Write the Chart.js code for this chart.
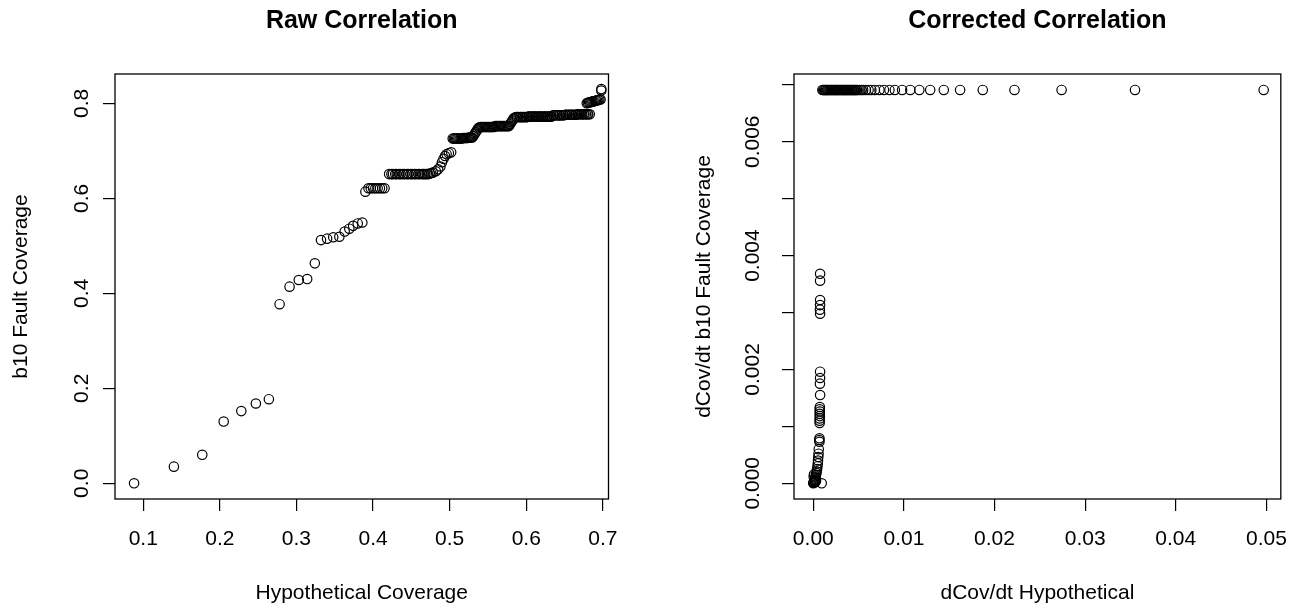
<!DOCTYPE html>
<html>
<head>
<meta charset="utf-8">
<title>Raw and Corrected Correlation</title>
<script src="https://cdn.jsdelivr.net/npm/chart.js@4.4.1/dist/chart.umd.min.js"></script>
<style>
    html, body { margin: 0; padding: 0; background: #fff; overflow: hidden; }
    #wrap { position: relative; width: 1303px; height: 610px; overflow: hidden; }
    #wrap canvas { position: absolute; top: 0; }
    #raw-chart { left: 0; }
    #corr-chart { left: 651px; }
</style>
</head>
<body>
<div id="wrap">
    <canvas id="raw-chart" width="651" height="610"></canvas>
    <canvas id="corr-chart" width="652" height="610"></canvas>
</div>
<script>
// ---- Raw correlation (left panel) ----
const RAW_X = [
    0.088, 0.140, 0.177, 0.205, 0.228, 0.247, 0.264,
    0.278, 0.291, 0.303, 0.314, 0.324,
    0.332, 0.340, 0.348, 0.356, 0.363, 0.369, 0.374, 0.380, 0.386,
    0.390, 0.394, 0.397, 0.400, 0.403, 0.406, 0.409, 0.412, 0.415,
    0.421, 0.424, 0.426, 0.429, 0.431, 0.434, 0.436, 0.439, 0.441, 0.444,
    0.446, 0.449, 0.451, 0.454, 0.456, 0.459, 0.461, 0.464, 0.466, 0.468,
    0.470, 0.472, 0.474, 0.476, 0.478,
    0.482, 0.485, 0.488, 0.490, 0.492, 0.494, 0.496, 0.499, 0.502,
    0.504, 0.5055, 0.507, 0.5085, 0.510, 0.5115, 0.513, 0.5145, 0.516,
    0.5175, 0.519, 0.5205, 0.522, 0.5235, 0.525, 0.5265, 0.528, 0.5295,
    0.531, 0.5325, 0.534, 0.5355, 0.537, 0.5385,
    0.540, 0.5415, 0.543, 0.5445, 0.546, 0.5475, 0.549, 0.5505, 0.552, 0.5535,
    0.555, 0.5565, 0.558, 0.5595, 0.561, 0.5625, 0.564, 0.5655, 0.567, 0.5685,
    0.570, 0.5715, 0.573, 0.5745, 0.576, 0.5775,
    0.579, 0.5805, 0.582, 0.5835, 0.585,
    0.587, 0.588, 0.590, 0.592, 0.593, 0.595, 0.596, 0.598, 0.600, 0.601,
    0.603, 0.604, 0.606, 0.608, 0.609, 0.611, 0.612, 0.614, 0.616, 0.617,
    0.619, 0.620, 0.622, 0.624, 0.625, 0.627, 0.628, 0.630, 0.632, 0.633,
    0.635, 0.636, 0.638, 0.640, 0.641, 0.643, 0.644, 0.646, 0.648, 0.649,
    0.651, 0.652, 0.654, 0.656, 0.657, 0.659, 0.660, 0.662, 0.664, 0.665,
    0.667, 0.668, 0.670, 0.672, 0.673, 0.675, 0.676, 0.678, 0.680, 0.681, 0.683,
    0.679, 0.6805, 0.682, 0.6835, 0.685, 0.6865, 0.688, 0.6895, 0.691, 0.6925,
    0.694, 0.6955, 0.697,
    0.698, 0.698
];
const RAW_Y = [
    0.000, 0.035, 0.060, 0.130, 0.152, 0.168, 0.177,
    0.377, 0.414, 0.428, 0.430, 0.463,
    0.512, 0.515, 0.518, 0.519, 0.530, 0.536, 0.542, 0.547, 0.549,
    0.614, 0.621, 0.621, 0.621, 0.621, 0.621, 0.621, 0.621, 0.621,
    0.651, 0.651, 0.651, 0.651, 0.651, 0.651, 0.651, 0.651, 0.651, 0.651,
    0.651, 0.651, 0.651, 0.651, 0.651, 0.651, 0.651, 0.651, 0.651, 0.651,
    0.651, 0.651, 0.652, 0.653, 0.654,
    0.657, 0.661, 0.667, 0.676, 0.683, 0.689, 0.693, 0.695, 0.697,
    0.726, 0.726, 0.726, 0.726, 0.726, 0.726, 0.726, 0.726, 0.726,
    0.727, 0.727, 0.727, 0.727, 0.727, 0.728, 0.728, 0.728, 0.728,
    0.731, 0.735, 0.739, 0.743, 0.747, 0.749,
    0.750, 0.750, 0.750, 0.750, 0.750, 0.750, 0.750, 0.750, 0.750, 0.750,
    0.750, 0.750, 0.750, 0.752, 0.752, 0.752, 0.752, 0.752, 0.752, 0.752,
    0.752, 0.752, 0.752, 0.752, 0.752, 0.752,
    0.756, 0.760, 0.764, 0.768, 0.770,
    0.771, 0.771, 0.771, 0.771, 0.771, 0.771, 0.771, 0.771, 0.771, 0.771,
    0.772, 0.772, 0.772, 0.772, 0.772, 0.772, 0.772, 0.772, 0.772, 0.772,
    0.772, 0.772, 0.772, 0.772, 0.772, 0.772, 0.772, 0.772, 0.772, 0.772,
    0.775, 0.775, 0.775, 0.775, 0.775, 0.775, 0.775, 0.775, 0.775, 0.775,
    0.776, 0.776, 0.776, 0.776, 0.776, 0.776, 0.776, 0.776, 0.776, 0.776,
    0.777, 0.777, 0.777, 0.777, 0.777, 0.777, 0.777, 0.777, 0.777, 0.777, 0.777,
    0.800, 0.801, 0.802, 0.802, 0.803, 0.804, 0.804, 0.805, 0.806, 0.806,
    0.807, 0.808, 0.808,
    0.827, 0.830
];
const RAW_X_TICKS = [0.1, 0.2, 0.3, 0.4, 0.5, 0.6, 0.7];
const RAW_X_LABELS = ['0.1', '0.2', '0.3', '0.4', '0.5', '0.6', '0.7'];
const RAW_Y_TICKS = [0.0, 0.2, 0.4, 0.6, 0.8];
const RAW_Y_LABELS = ['0.0', '0.2', '0.4', '0.6', '0.8'];

// ---- Corrected correlation (right panel) ----
const CORR_X = [
    0.0497, 0.0355, 0.0274, 0.0222, 0.0187, 0.0162, 0.0144, 0.0129, 0.0117, 0.0107,
    0.0098, 0.0090, 0.0084, 0.0078, 0.0073, 0.0068, 0.0064, 0.0061, 0.0058, 0.0055,
    0.0053, 0.0051, 0.0049, 0.0048, 0.0047, 0.0046, 0.0045, 0.0044,
    0.0043, 0.0042, 0.0041, 0.0040, 0.0039, 0.0038, 0.0037, 0.0036, 0.0035, 0.0034,
    0.0033, 0.0032, 0.0031, 0.0030, 0.0029, 0.0028, 0.0027, 0.0026, 0.0025, 0.0024,
    0.0023, 0.0022, 0.0021, 0.0020, 0.0019, 0.0018, 0.0017, 0.0016, 0.0015, 0.0014,
    0.0013, 0.0012, 0.0011, 0.0010,
    0.00075, 0.00075, 0.00075, 0.00075, 0.00073, 0.00075,
    0.00075, 0.00075, 0.00073, 0.00075,
    0.00072, 0.00070, 0.00072, 0.00070, 0.00072, 0.00070, 0.00070, 0.00070,
    0.00068, 0.00066, 0.00068,
    0.00060, 0.00058, 0.00055, 0.00052, 0.00050, 0.00046, 0.00042, 0.00038,
    0.00034, 0.00030, 0.00026, 0.00022, 0.00018, 0.00014, 0.00010, 0.00006,
    0.00002, 0.00000, 0.00004, 0.00008, 0.00012, 0.00020, 0.00030, 0.00093
];
const CORR_Y = [
    0.00691, 0.00691, 0.00691, 0.00691, 0.00691, 0.00691, 0.00691, 0.00691, 0.00691, 0.00691,
    0.00691, 0.00691, 0.00691, 0.00691, 0.00691, 0.00691, 0.00691, 0.00691, 0.00691, 0.00691,
    0.00691, 0.00691, 0.00691, 0.00691, 0.00691, 0.00691, 0.00691, 0.00691,
    0.00691, 0.00691, 0.00691, 0.00691, 0.00691, 0.00691, 0.00691, 0.00691, 0.00691, 0.00691,
    0.00691, 0.00691, 0.00691, 0.00691, 0.00691, 0.00691, 0.00691, 0.00691, 0.00691, 0.00691,
    0.00691, 0.00691, 0.00691, 0.00691, 0.00691, 0.00691, 0.00691, 0.00691, 0.00691, 0.00691,
    0.00691, 0.00691, 0.00691, 0.00691,
    0.00368, 0.00356, 0.00322, 0.00313, 0.00305, 0.00298,
    0.00196, 0.00185, 0.00175, 0.00155,
    0.00134, 0.00130, 0.00126, 0.00122, 0.00118, 0.00114, 0.00110, 0.00106,
    0.00079, 0.00076, 0.00073,
    0.00060, 0.00052, 0.00046, 0.00040, 0.00035, 0.00030, 0.00025, 0.00021,
    0.00018, 0.00015, 0.00012, 0.00010, 0.00008, 0.00006, 0.00004, 0.00002,
    0.00001, 0.00000, 0.00012, 0.00016, 0.00003, 0.00002, 0.00004, 0.00000
];
const CORR_X_TICKS = [0.00, 0.01, 0.02, 0.03, 0.04, 0.05];
const CORR_X_LABELS = ['0.00', '0.01', '0.02', '0.03', '0.04', '0.05'];
const CORR_Y_TICKS = [0.000, 0.001, 0.002, 0.003, 0.004, 0.005, 0.006, 0.007];
const CORR_Y_LABELS = ['0.000', '', '0.002', '', '0.004', '', '0.006', ''];

Chart.defaults.font.family = '"Liberation Sans", Arial, Helvetica, sans-serif';
Chart.defaults.color = '#000';

// R-style frame around the plotting region
const boxPlugin = {
    id: 'box',
    beforeDatasetsDraw(chart) {
        const { ctx, chartArea: a } = chart;
        ctx.save();
        ctx.strokeStyle = '#000';
        ctx.lineWidth = 1.3;
        ctx.strokeRect(a.left, a.top, a.right - a.left, a.bottom - a.top);
        ctx.restore();
    },
};

function toPoints(xs, ys) {
    return xs.map((x, i) => ({ x, y: ys[i] }));
}

function makeChart(canvasId, cfg) {
    const tickGrid = {
        display: true,
        drawOnChartArea: false,
        drawTicks: true,
        tickLength: 12,
        color: '#000',
        lineWidth: 1.2,
    };
    return new Chart(document.getElementById(canvasId), {
        type: 'scatter',
        data: {
            datasets: [{
                data: toPoints(cfg.xs, cfg.ys),
                pointStyle: 'circle',
                pointRadius: 4.7,
                pointHoverRadius: 4.7,
                borderWidth: 1.2,
                borderColor: '#000',
                backgroundColor: 'rgba(0,0,0,0)',
            }],
        },
        options: {
            responsive: false,
            animation: false,
            devicePixelRatio: 1,
            events: [],
            layout: { padding: { left: 0, right: cfg.padRight, top: 0, bottom: 0 } },
            plugins: {
                legend: { display: false },
                tooltip: { enabled: false },
                title: {
                    display: true,
                    fullSize: false,
                    text: cfg.title,
                    color: '#000',
                    font: { size: 25, weight: 'bold' },
                    padding: { top: 6, bottom: 38 },
                },
            },
            scales: {
                x: {
                    type: 'linear',
                    position: 'bottom',
                    min: cfg.xMin,
                    max: cfg.xMax,
                    afterFit: s => { s.height = 111; },
                    afterBuildTicks: s => { s.ticks = cfg.xTicks.map(v => ({ value: v })); },
                    grid: tickGrid,
                    border: { display: false },
                    ticks: {
                        autoSkip: false,
                        maxRotation: 0,
                        padding: 15.5,
                        font: { size: 21 },
                        callback: (v, i) => cfg.xLabels[i],
                    },
                    title: {
                        display: true,
                        text: cfg.xTitle,
                        font: { size: 21 },
                        padding: { top: 0, bottom: 4.5 },
                    },
                },
                y: {
                    type: 'linear',
                    position: 'left',
                    min: cfg.yMin,
                    max: cfg.yMax,
                    afterFit: s => { s.width = cfg.yWidth; },
                    afterBuildTicks: s => { s.ticks = cfg.yTicks.map(v => ({ value: v })); },
                    grid: tickGrid,
                    border: { display: false },
                    ticks: {
                        autoSkip: false,
                        minRotation: 90,
                        maxRotation: 90,
                        crossAlign: 'center',
                        padding: cfg.yTickPad,
                        font: { size: 21 },
                        callback: (v, i) => cfg.yLabels[i],
                    },
                    title: {
                        display: true,
                        text: cfg.yTitle,
                        font: { size: 21 },
                        padding: { top: cfg.yTitlePad, bottom: 0 },
                    },
                },
            },
        },
        plugins: [boxPlugin],
    });
}

makeChart('raw-chart', {
    title: 'Raw Correlation',
    xTitle: 'Hypothetical Coverage',
    yTitle: 'b10 Fault Coverage',
    xs: RAW_X, ys: RAW_Y,
    xMin: 0.0631, xMax: 0.7074,
    yMin: -0.0331, yMax: 0.8617,
    xTicks: RAW_X_TICKS, xLabels: RAW_X_LABELS,
    yTicks: RAW_Y_TICKS, yLabels: RAW_Y_LABELS,
    yWidth: 115, padRight: 42.5,
    yTickPad: 6.4, yTitlePad: 8.4,
});

makeChart('corr-chart', {
    title: 'Corrected Correlation',
    xTitle: 'dCov/dt Hypothetical',
    yTitle: 'dCov/dt b10 Fault Coverage',
    xs: CORR_X, ys: CORR_Y,
    xMin: -0.00213, xMax: 0.05159,
    yMin: -0.000276, yMax: 0.00719,
    xTicks: CORR_X_TICKS, xLabels: CORR_X_LABELS,
    yTicks: CORR_Y_TICKS, yLabels: CORR_Y_LABELS,
    yWidth: 143, padRight: 21.3,
    yTickPad: 2.3, yTitlePad: 40.4,
});
</script>
</body>
</html>
